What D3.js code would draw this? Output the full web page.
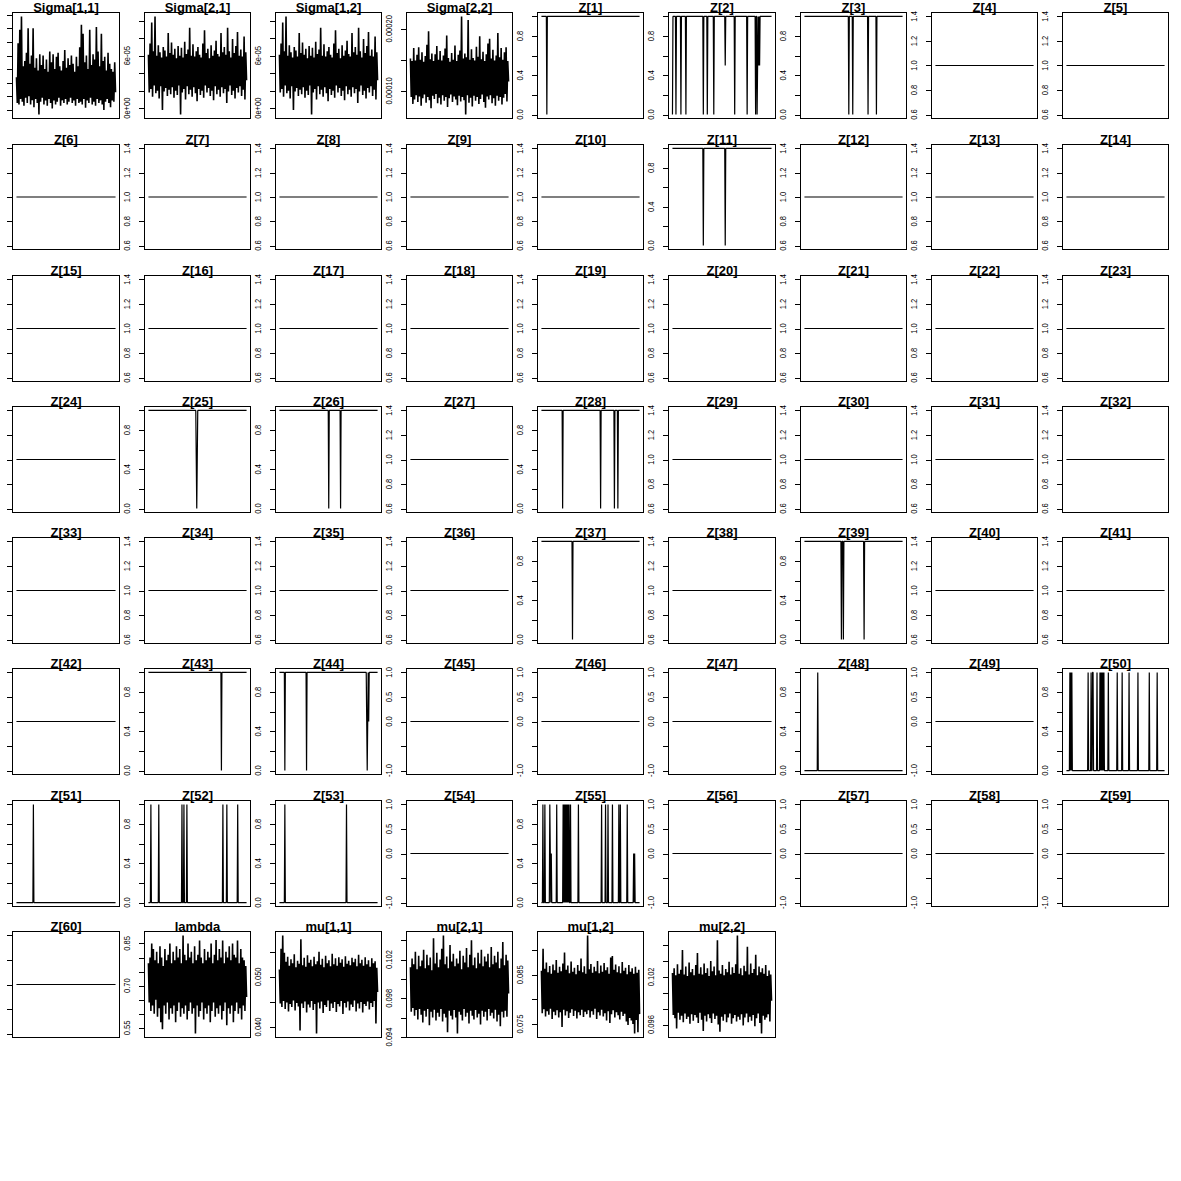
<!DOCTYPE html>
<html><head><meta charset="utf-8">
<script src="https://cdn.jsdelivr.net/npm/d3@7"></script>
<style>body{margin:0;background:#fff}svg{display:block}</style>
</head><body><svg id="c" width="1181" height="1181"></svg>
<script>
// ---------------- DATA ----------------
// Sigma traces are given in units of 1e-05
const sigma11 = [3.4,1.5,5.9,1.4,6.9,1.8,7.875,1.6,4.2,1.3,4.6,1.9,5.2,1.5,7.0,2.0,4.4,1.4,5.0,1.7,7.0,1.2,4.1,1.8,4.8,1.5,3.9,0.654,5.1,1.6,4.3,1.9,5.0,1.4,4.0,1.7,4.7,1.3,3.8,1.8,5.3,1.5,4.5,1.1,5.1,1.7,4.0,1.4,4.9,1.6,5.2,1.9,4.2,1.3,3.9,1.7,4.6,1.5,5.4,1.8,4.1,1.4,4.8,1.6,4.3,1.9,5.0,1.5,4.4,1.7,3.8,1.3,4.9,1.8,4.2,1.5,5.6,1.6,7.26,1.4,6.6,1.8,4.5,1.15,5.0,1.7,4.0,1.5,6.9,1.9,4.3,1.4,5.1,1.6,4.7,1.3,7.1,1.8,5.3,1.5,4.2,1.7,6.6,1.4,4.6,1.0,4.9,1.6,3.9,1.8,5.2,1.5,4.4,1.2,4.0,1.7,3.8,1.6,4.5,2.3];
const sigma21 = [6.1,1.8,7.4,2.2,9.8,1.3,6.5,2.6,10.49,1.7,6.0,2.0,7.2,1.1,6.4,2.5,5.8,-0.2,7.0,1.9,6.6,2.3,5.9,1.4,8.6,2.1,6.3,1.6,7.5,2.4,6.1,1.2,6.8,2.0,5.7,1.5,7.1,2.6,6.0,-0.733,6.9,1.8,5.8,2.2,7.6,1.0,6.2,2.5,6.7,1.6,9.2,2.1,6.0,1.3,7.3,2.4,5.9,1.7,6.5,0.8,7.0,2.2,6.1,1.5,5.8,2.0,7.4,1.2,8.9,2.6,6.3,1.8,6.8,2.3,5.7,1.4,7.2,2.0,6.0,0.9,6.6,2.5,7.7,1.6,6.2,2.1,5.9,1.3,8.6,2.4,6.4,1.7,7.0,2.2,6.1,0.6,9.2,1.9,6.5,2.6,5.8,1.5,7.9,2.0,6.3,1.1,7.1,2.3,8.7,1.8,6.0,2.5,6.7,1.4,5.9,2.1,8.2,1.0,6.4,3.2];
const sigma12 = sigma21.slice(); // Sigma is symmetric: identical trace
const sigma22 = [15.2,9.0,14.8,7.9,16.9,8.6,14.9,9.3,15.8,8.2,17.0,9.1,15.0,7.6,16.2,8.8,14.7,9.4,15.6,8.1,17.4,9.0,19.6,8.5,15.1,7.2,16.0,9.2,14.8,8.7,15.9,9.5,17.2,8.0,15.0,8.9,16.4,7.8,14.9,9.3,15.7,8.4,16.8,9.0,18.9,7.4,15.3,8.8,14.7,9.4,16.1,8.2,15.0,9.1,17.3,8.6,14.8,7.7,15.8,9.2,16.5,8.3,21.98,9.0,15.2,8.5,16.0,6.18,15.4,9.3,21.4,8.1,15.0,8.9,16.7,7.5,15.3,9.2,14.9,8.4,17.1,9.0,15.5,7.9,18.8,8.7,15.1,9.4,16.3,8.2,14.8,7.3,15.9,9.1,17.6,8.6,18.4,9.3,15.2,8.0,16.6,8.8,14.9,7.6,15.7,9.2,19.3,8.4,15.4,9.0,16.9,7.8,15.0,8.9,16.2,9.5,17.0,8.3,14.8,11.5];
const lambda = [0.78,0.64,0.80,0.61,0.85,0.63,0.83,0.60,0.79,0.65,0.82,0.59,0.78,0.62,0.84,0.57,0.80,0.545,0.77,0.63,0.83,0.60,0.79,0.64,0.81,0.58,0.85,0.62,0.78,0.60,0.82,0.63,0.79,0.57,0.84,0.61,0.80,0.64,0.83,0.59,0.78,0.62,0.8784,0.60,0.81,0.63,0.79,0.58,0.85,0.61,0.80,0.64,0.82,0.60,0.78,0.62,0.84,0.530,0.79,0.63,0.81,0.59,0.86,0.61,0.80,0.64,0.78,0.58,0.83,0.62,0.79,0.60,0.82,0.63,0.80,0.57,0.85,0.61,0.78,0.64,0.81,0.59,0.862,0.62,0.79,0.60,0.83,0.63,0.80,0.58,0.86,0.61,0.78,0.64,0.82,0.56,0.80,0.62,0.84,0.60,0.79,0.63,0.85,0.57,0.81,0.61,0.80,0.64,0.86,0.60,0.78,0.62,0.83,0.58,0.80,0.63,0.79,0.61,0.77,0.66];
const mu11 = [0.0515,0.0447,0.0556,0.0440,0.05828,0.0452,0.0548,0.0436,0.0530,0.0449,0.0540,0.0431,0.0522,0.0446,0.0535,0.0440,0.0527,0.0453,0.0545,0.0433,0.0519,0.0448,0.0532,0.0441,0.0526,0.0393,0.0575,0.0447,0.0523,0.0438,0.0538,0.0451,0.0520,0.0429,0.0543,0.0445,0.0528,0.0439,0.0534,0.0452,0.0521,0.0434,0.0540,0.0446,0.0525,0.03868,0.0531,0.0449,0.0550,0.0437,0.0524,0.0451,0.0536,0.0428,0.0519,0.0444,0.0542,0.0440,0.0527,0.0453,0.0533,0.0432,0.0521,0.0447,0.0546,0.0438,0.0525,0.0450,0.0537,0.0430,0.0522,0.0446,0.0539,0.0441,0.0528,0.0452,0.0535,0.0426,0.0520,0.0448,0.0541,0.0439,0.0526,0.0451,0.0532,0.0433,0.0523,0.0445,0.0538,0.0440,0.0529,0.0453,0.0536,0.0431,0.0521,0.0447,0.0544,0.0437,0.0527,0.0450,0.0534,0.0429,0.0522,0.0446,0.0539,0.0442,0.0525,0.0451,0.0533,0.0435,0.0520,0.0448,0.0537,0.0440,0.0527,0.0452,0.0531,0.0407,0.0518,0.0470];
const mu21 = [0.1012,0.0966,0.1021,0.0970,0.1015,0.0962,0.1028,0.0968,0.1010,0.0958,0.1024,0.0969,0.1013,0.0963,0.1019,0.0955,0.1030,0.0967,0.1011,0.0961,0.1025,0.0969,0.1014,0.0952,0.1022,0.0966,0.1009,0.0960,0.1042,0.0968,0.1016,0.0957,0.1027,0.0965,0.1012,0.0961,0.1020,0.0969,0.1031,0.0956,0.10449,0.0964,0.1015,0.0960,0.1023,0.0945,0.1011,0.0967,0.1035,0.0962,0.1018,0.0958,0.1026,0.0968,0.1013,0.0960,0.1021,0.09435,0.1016,0.0966,0.1029,0.0963,0.1010,0.0957,0.1024,0.0969,0.1017,0.0961,0.1032,0.0965,0.1012,0.0954,0.1025,0.0967,0.1040,0.0962,0.1014,0.0958,0.1022,0.0968,0.1011,0.0960,0.1027,0.0964,0.1016,0.0953,0.1030,0.0967,0.1013,0.0961,0.1023,0.0966,0.1018,0.0957,0.1026,0.0969,0.1012,0.0962,0.1033,0.0965,0.1015,0.0959,0.1024,0.0968,0.1017,0.0956,0.1028,0.0963,0.1011,0.0951,0.1021,0.0966,0.1038,0.0960,0.1014,0.0967,0.1025,0.0961,0.1019,0.0985];
const mu12 = [0.0858,0.0772,0.0903,0.0780,0.0862,0.0765,0.0875,0.0776,0.0855,0.0769,0.0868,0.0781,0.0852,0.0760,0.0871,0.0775,0.0859,0.0768,0.0880,0.0778,0.0854,0.0763,0.0866,0.0774,0.0857,0.0744,0.0873,0.0779,0.0895,0.0767,0.0860,0.0776,0.0869,0.0762,0.0853,0.0773,0.0877,0.0780,0.0856,0.0766,0.0864,0.0777,0.0851,0.0761,0.0870,0.0774,0.0858,0.0768,0.0883,0.0779,0.0855,0.0764,0.0867,0.0775,0.0852,0.0770,0.09299,0.0778,0.0861,0.0763,0.0872,0.0776,0.0854,0.0769,0.0866,0.0781,0.0857,0.0760,0.0878,0.0774,0.0853,0.0767,0.0869,0.0779,0.0856,0.0765,0.0874,0.0772,0.0859,0.0757,0.0865,0.0776,0.0852,0.0752,0.0885,0.0770,0.0888,0.0778,0.0860,0.0763,0.0871,0.0774,0.0855,0.0768,0.0867,0.0759,0.0853,0.0775,0.0876,0.0766,0.0858,0.0771,0.0864,0.0755,0.0851,0.0748,0.0870,0.0762,0.0856,0.0757,0.0863,0.0750,0.0852,0.07305,0.0866,0.0758,0.0854,0.0733,0.0860,0.0770];
const mu22 = [0.1025,0.0972,0.1031,0.0968,0.1022,0.0955,0.1036,0.0975,0.1024,0.0966,0.1029,0.0971,0.1054,0.0963,0.1023,0.0974,0.1033,0.0967,0.1021,0.0970,0.1038,0.0961,0.1026,0.0973,0.1030,0.0965,0.1022,0.0972,0.1035,0.0969,0.1050,0.0962,0.1024,0.0975,0.1032,0.0966,0.1023,0.0952,0.1037,0.0971,0.1025,0.0964,0.1031,0.0973,0.1021,0.0968,0.1040,0.0962,0.1027,0.0974,0.1033,0.0967,0.1022,0.0971,0.1066,0.0960,0.1028,0.0951,0.1024,0.0970,0.1035,0.0965,0.1022,0.0973,0.1030,0.0963,0.1026,0.0969,0.1039,0.0974,0.1023,0.0961,0.1032,0.0968,0.1025,0.0972,0.1036,0.0964,0.10722,0.0970,0.1024,0.0966,0.1031,0.0973,0.1022,0.0959,0.1034,0.0969,0.1027,0.0974,0.1058,0.0963,0.1023,0.0970,0.1037,0.0965,0.1025,0.0972,0.1030,0.0958,0.1048,0.0968,0.1022,0.0974,0.1033,0.0962,0.1026,0.09487,0.1031,0.0971,0.1024,0.0966,0.1035,0.0969,0.1021,0.0973,0.1028,0.0964,0.1023,0.0990];

// Z[k] traces: number of iterations, base state of each Z[1..60], and the
// iterations where the state differs from its base ([iteration, value]).
const Z_ITER = 200;
const zBase = [1,1,1,1,1,1,1,1,1,1, 1,1,1,1,1,1,1,1,1,1, 1,1,1,1,1,1,1,1,1,1, 1,1,1,1,1,1,1,1,1,1, 1,1,1,1,0,0,0,0,0,0, 0,0,0,0,0,0,0,0,0,1];
const zFlips = {
  1: [[11,0]],
  2: [[0,0],[7,0],[17,0],[27,0],[62,0],[70,0],[83,0],[106,0.5],[125,0],[150,0],[167,0],[170,0],[171,0.5],[173,0.5],[175,0.5]],
  3: [[90,0],[98,0],[129,0],[146,0]],
  11: [[62,0],[106,0]],
  25: [[97,0.5],[98,0],[99,0.5]],
  26: [[100,0],[124,0]],
  28: [[43,0],[120,0],[148,0],[155,0]],
  37: [[63,0]],
  39: [[75,0],[79,0],[121,0]],
  43: [[148,0]],
  44: [[11,0],[55,0],[177,0.5],[178,0],[179,0.5],[181,0.5]],
  48: [[27,1]],
  50: [[7,1],[9,1],[11,1],[44,1],[50,1],[53,1],[54,1],[62,1],[68,1],[70,1],[72,1],[74,1],[76,1],[85,1],[103,1],[113,1],[127,1],[145,1],[168,1],[184,1]],
  51: [[34,1]],
  52: [[5,1],[21,1],[68,1],[72,1],[78,1],[151,1],[159,1],[181,1]],
  53: [[11,1],[136,1]],
  55: [[3,1],[7,1],[17,1],[18,0.5],[20,0.5],[31,1],[44,1],[46,1],[48,1],[50,1],[52,1],[54,1],[56,1],[59,1],[75,1],[122,1],[130,1],[135,1],[144,1],[157,1],[160,1],[174,1],[187,0.5],[189,0.5]]
};

// Tick values and the tick labels that are printed
const sigma11Ticks = [1,2,3,4,5,6,7,8];
const sigma11Labels = [[1,"1e-05"],[4,"4e-05"],[7,"7e-05"]];
const sigma21Ticks = [0,2,4,6,8,10];
const sigma21Labels = [[0,"0e+00"],[6,"6e-05"]];
const sigma22Ticks = [10,15,20];
const sigma22Labels = [[10,"0.00010"],[20,"0.00020"]];
const lambdaTicks = [0.55,0.60,0.65,0.70,0.75,0.80,0.85];
const lambdaLabels = [[0.55,"0.55"],[0.70,"0.70"],[0.85,"0.85"]];
const mu11Ticks = [0.040,0.045,0.050,0.055];
const mu11Labels = [[0.040,"0.040"],[0.050,"0.050"]];
const mu21Ticks = [0.094,0.096,0.098,0.100,0.102,0.104];
const mu21Labels = [[0.094,"0.094"],[0.098,"0.098"],[0.102,"0.102"]];
const mu12Ticks = [0.075,0.080,0.085,0.090];
const mu12Labels = [[0.075,"0.075"],[0.085,"0.085"]];
const mu22Ticks = [0.096,0.098,0.100,0.102,0.104,0.106];
const mu22Labels = [[0.096,"0.096"],[0.102,"0.102"]];
const zBinTicks = [0,0.2,0.4,0.6,0.8,1.0];
const zBinLabels = [[0,"0.0"],[0.4,"0.4"],[0.8,"0.8"]];
const zOneTicks = [0.6,0.8,1.0,1.2,1.4];
const zOneLabels = [[0.6,"0.6"],[0.8,"0.8"],[1.0,"1.0"],[1.2,"1.2"],[1.4,"1.4"]];
const zZeroTicks = [-1,-0.5,0,0.5,1];
const zZeroLabels = [[-1,"-1.0"],[0,"0.0"],[0.5,"0.5"],[1,"1.0"]];

// ---------------- BUILD PANELS ----------------
function expandZ(k){
  const arr = new Array(Z_ITER).fill(zBase[k-1]);
  (zFlips[k]||[]).forEach(([i,v])=>{arr[i]=v;});
  return arr;
}
const panels = [
  {name:"Sigma[1,1]", values:sigma11, ticks:sigma11Ticks, labels:sigma11Labels, cont:true},
  {name:"Sigma[2,1]", values:sigma21, ticks:sigma21Ticks, labels:sigma21Labels, cont:true},
  {name:"Sigma[1,2]", values:sigma12, ticks:sigma21Ticks, labels:sigma21Labels, cont:true},
  {name:"Sigma[2,2]", values:sigma22, ticks:sigma22Ticks, labels:sigma22Labels, cont:true}
];
for(let k=1;k<=60;k++){
  const v = expandZ(k);
  const [lo,hi] = d3.extent(v);
  let ticks, labels;
  if(lo!==hi){ticks=zBinTicks;labels=zBinLabels;}
  else if(lo===0){ticks=zZeroTicks;labels=zZeroLabels;}
  else {ticks=zOneTicks;labels=zOneLabels;}
  panels.push({name:`Z[${k}]`, values:v, ticks, labels, cont:false});
}
panels.push({name:"lambda", values:lambda, ticks:lambdaTicks, labels:lambdaLabels, cont:true});
panels.push({name:"mu[1,1]", values:mu11, ticks:mu11Ticks, labels:mu11Labels, cont:true});
panels.push({name:"mu[2,1]", values:mu21, ticks:mu21Ticks, labels:mu21Labels, cont:true});
panels.push({name:"mu[1,2]", values:mu12, ticks:mu12Ticks, labels:mu12Labels, cont:true});
panels.push({name:"mu[2,2]", values:mu22, ticks:mu22Ticks, labels:mu22Labels, cont:true});

// ---------------- DRAW ----------------
const svg = d3.select("#c");
const SIZE = 1181, NCOL = 9, CELL = SIZE/NCOL;
const crisp = v => Math.round(v)+0.5;
const FONT = "'Liberation Sans', Arial, sans-serif";

panels.forEach((p,k)=>{
  const col = k % NCOL, row = Math.floor(k / NCOL);
  const x0 = col*CELL, y0 = row*CELL;
  const L = crisp(x0+12.3), R = crisp(x0+118.5), T = crisp(y0+12.3), B = crisp(y0+118.2);
  let [lo,hi] = d3.extent(p.values);
  if(lo===hi){ if(lo===0){lo=-1;hi=1;} else {const d=0.4*Math.abs(lo); lo-=d; hi+=d;} }
  const py = 0.04*(hi-lo);
  const y = d3.scaleLinear().domain([lo-py, hi+py]).range([B,T]);
  const n = p.values.length;
  const px = 0.04*(n-1);
  const x = d3.scaleLinear().domain([1-px, n+px]).range([L,R]);
  const g = svg.append("g");

  g.append("path").datum(p.values)
    .attr("d", d3.line().x((d,i)=>x(i+1)).y(d=>y(d)))
    .attr("fill","none").attr("stroke","#000")
    .attr("stroke-width", p.cont ? 1.6 : 1.2)
    .attr("stroke-linejoin","bevel");

  g.append("rect").attr("x",L).attr("y",T).attr("width",R-L).attr("height",B-T)
    .attr("fill","none").attr("stroke","#000").attr("stroke-width",1);

  const ax = g.append("g").attr("transform",`translate(${L},0)`)
    .call(d3.axisLeft(y).tickValues(p.ticks.filter(t=>t>=y.domain()[0]&&t<=y.domain()[1])).tickSize(5).tickFormat(""));
  ax.select(".domain").remove();
  ax.selectAll(".tick").attr("transform",d=>`translate(0,${crisp(y(d))})`);
  ax.selectAll(".tick line").attr("stroke","#000").attr("stroke-width",1).attr("x2",-5.5);

  // tick labels sit in the gap left of the axis; in the first column that gap is off the page
  if(L-24 > 0){
    p.labels.forEach(([v,txt])=>{
      g.append("text")
        .attr("transform",`translate(${L-14.6},${y(v)}) rotate(-90) scale(0.9,1)`)
        .attr("text-anchor","middle")
        .attr("font-family",FONT)
        .attr("font-size","8.4px").attr("fill","#000")
        .text(txt);
    });
  }

  g.append("text")
    .attr("x",(L+R)/2).attr("y",T-0.3)
    .attr("text-anchor","middle")
    .attr("font-family",FONT)
    .attr("font-weight","bold").attr("font-size","13px").attr("fill","#000")
    .text(p.name);
});
</script></body></html>
